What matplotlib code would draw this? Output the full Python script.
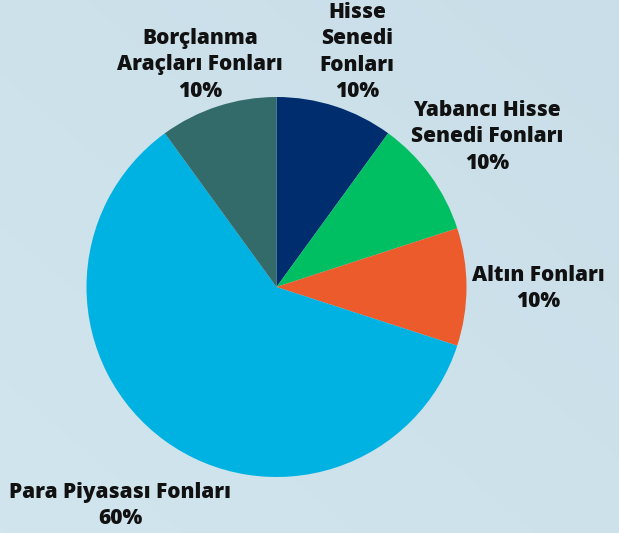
import numpy as np
import matplotlib.pyplot as plt
from matplotlib.colors import LinearSegmentedColormap

labels = ["Hisse\nSenedi\nFonları", "Yabancı Hisse\nSenedi Fonları", "Altın Fonları",
          "Para Piyasası Fonları", "Borçlanma\nAraçları Fonları"]
values = [10, 10, 10, 60, 10]
colors = ["#002D6E", "#00BF63", "#EC5B2B", "#00B2E2", "#336B6B"]
# label centres in figure pixels (x, y of first line centre)
label_pos = [(357, 12), (487, 110), (538, 275), (120, 492), (200, 38)]

W, H = 619, 533
fig = plt.figure(figsize=(W / 100, H / 100), dpi=100)

# background, very mild gradient
bg = fig.add_axes([0, 0, 1, 1], zorder=-1)
cmap = LinearSegmentedColormap.from_list("bg", ["#D1E5EE", "#C9DEE8"])
gx, gy = np.meshgrid(np.linspace(0, 1, 200), np.linspace(0, 1, 200))
bg.imshow(0.5 * gx + 0.5 * (1 - gy), cmap=cmap, aspect="auto", extent=[0, 1, 0, 1])
bg.axis("off")

cx, cy, r = 276.5, 287, 190
ax = fig.add_axes([(cx - r) / W, (H - cy - r) / H, 2 * r / W, 2 * r / H])
ax.pie(values, colors=colors, startangle=90, counterclock=False,
       wedgeprops=dict(linewidth=0), radius=1)
ax.set_xlim(-1, 1)
ax.set_ylim(-1, 1)
ax.axis("off")

for lab, v, (px, py) in zip(labels, values, label_pos):
    fig.text(px / W, 1 - (py - 10) / H, f"{lab}\n{v}%", ha="center", va="top",
             fontsize=15, fontweight="heavy", family="Open Sans",
             linespacing=1.33, color="#111111")

fig.savefig("out.png", dpi=100)
